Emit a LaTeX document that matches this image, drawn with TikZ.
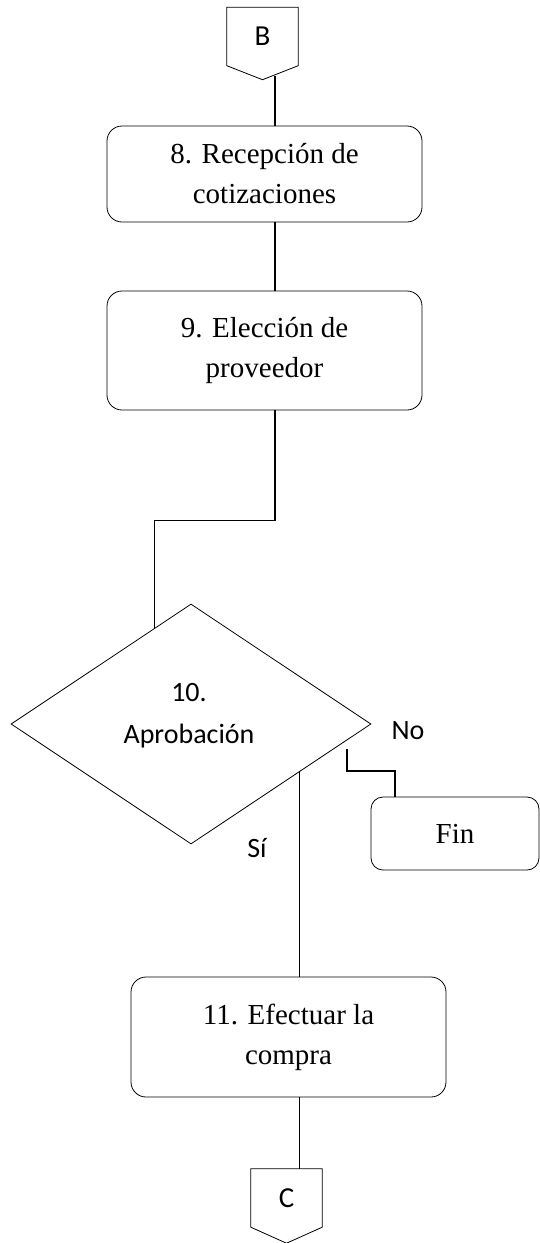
\documentclass[tikz,border=0pt]{standalone}
\usepackage{fontspec}
\setmainfont{Liberation Serif}
\newfontfamily\calibri{Carlito}
\usetikzlibrary{shapes.geometric}

\begin{document}
\begin{tikzpicture}[x=1pt, y=-1pt,
    proc/.style={draw, rectangle, rounded corners=15pt, line width=0.8pt, minimum width=315pt, align=center, font=\fontsize{29}{40}\selectfont},
    decision/.style={draw, diamond, line width=0.8pt, minimum width=360pt, minimum height=240pt, inner sep=0pt},
    offpage/.style={minimum width=71pt, minimum height=58pt, inner sep=0pt, font=\calibri\fontsize{29}{34}\selectfont},
    link/.style={line width=1.4pt},
    lbl/.style={font=\calibri\fontsize{28}{42}\selectfont}]
            \useasboundingbox (0,0) rectangle (540,1243);

            % conector de entrada
            \node [offpage] (B) at (262.5,36.5) {B};
            \draw[line width=0.8pt] (B.south west) -- (B.north west) -- (B.north east) -- (B.south east) -- ([yshift=-14pt]B.south) -- cycle;
            \coordinate (bOut) at ([xshift=12.5pt,yshift=-10pt]B.south);

            \node [proc, minimum height=96pt] (recep) at (264.5,174) {8. Recepción de\\cotizaciones};
            \node [proc, minimum height=119pt] (elec) at (264.5,350.5) {9. Elección de\\proveedor};

            \node [decision] (aprob) at (191,724) {};
            \node [lbl, align=center] (aprobTxt) at (189,716) {10.\\Aprobación};

            \node [proc, rounded corners=12pt, minimum width=168pt, minimum height=73pt] (fin) at (455,833.5) {Fin};
            \node [proc, minimum height=120pt] (compra) at (288.5,1037) {11. Efectuar la\\compra};

            % conector de salida
            \node [offpage] (C) at (286.5,1198) {C};
            \draw[line width=0.8pt] (C.south west) -- (C.north west) -- (C.north east) -- (C.south east) -- ([yshift=-16pt]C.south) -- cycle;

            \coordinate (noOut) at (347,749);
            \node [lbl] (noLbl) at (408,731) {No};
            \node [lbl] (siLbl) at (257,848) {Sí};

            \draw[link] (bOut) -- (bOut |- recep.north);
            \draw[link] (recep.south -| bOut) -- (elec.north -| bOut);
            \draw[link] (elec.south -| bOut) -- ++(0,110) -| (aprob.111);
            \draw[link] (noOut) -- ++(0,22) -| ([xshift=-60pt]fin.north);
            \draw[link] (aprob.-24) -- (aprob.-24 |- compra.north);
            \draw[link] (compra.south -| aprob.-24) -- (C.north -| aprob.-24);
        \end{tikzpicture}
\end{document}
